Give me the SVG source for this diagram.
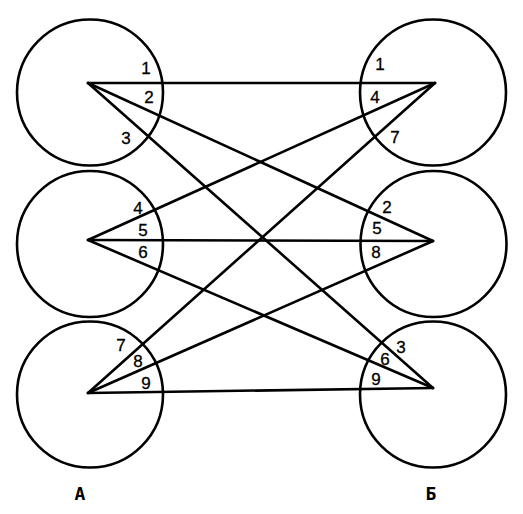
<svg xmlns="http://www.w3.org/2000/svg" width="523" height="514" viewBox="0 0 523 514">
<style>
.c{fill:none;stroke:#000;stroke-width:2.6}
.l{stroke:#000;stroke-width:2.6;stroke-linecap:round;fill:none}
.t{font-family:"Liberation Sans",Arial,sans-serif;font-size:17px;fill:#000;stroke:#000;stroke-width:0.3;text-anchor:middle}
.h{font-family:"DejaVu Sans Mono",monospace;font-weight:bold;font-size:18px;fill:#000;text-anchor:middle}
</style>
<rect width="523" height="514" fill="#fff"/>
<g id="connectors">
<line class="l" x1="88" y1="83" x2="435" y2="83"/>
<line class="l" x1="88" y1="83" x2="433" y2="241"/>
<line class="l" x1="88" y1="83" x2="433" y2="388"/>
<line class="l" x1="88" y1="240" x2="435" y2="83"/>
<line class="l" x1="88" y1="240" x2="433" y2="241"/>
<line class="l" x1="88" y1="240" x2="433" y2="388"/>
<line class="l" x1="88" y1="393" x2="435" y2="83"/>
<line class="l" x1="88" y1="393" x2="433" y2="241"/>
<line class="l" x1="88" y1="393" x2="433" y2="388"/>
</g>
<g id="left1">
<circle class="c" cx="90" cy="92.5" r="73"/>
<text class="t" x="146" y="74">1</text>
<text class="t" x="149" y="103">2</text>
<text class="t" x="126" y="144">3</text>
</g>
<g id="left2">
<circle class="c" cx="90" cy="244" r="73"/>
<text class="t" x="138" y="214">4</text>
<text class="t" x="143" y="236">5</text>
<text class="t" x="143" y="258">6</text>
</g>
<g id="left3">
<circle class="c" cx="90" cy="394.5" r="73"/>
<text class="t" x="121" y="351">7</text>
<text class="t" x="138" y="367">8</text>
<text class="t" x="146" y="389">9</text>
</g>
<g id="right1">
<circle class="c" cx="433" cy="92.5" r="73"/>
<text class="t" x="380" y="70">1</text>
<text class="t" x="375" y="103">4</text>
<text class="t" x="395" y="143">7</text>
</g>
<g id="right2">
<circle class="c" cx="433.5" cy="244" r="73"/>
<text class="t" x="387" y="213">2</text>
<text class="t" x="377" y="234">5</text>
<text class="t" x="376" y="258">8</text>
</g>
<g id="right3">
<circle class="c" cx="433" cy="394.5" r="73"/>
<text class="t" x="401" y="353">3</text>
<text class="t" x="385" y="365">6</text>
<text class="t" x="376" y="385">9</text>
</g>
<g id="labelA"><text class="h" x="80" y="500">А</text></g>
<g id="labelB"><text class="h" x="431" y="500">Б</text></g>
</svg>
